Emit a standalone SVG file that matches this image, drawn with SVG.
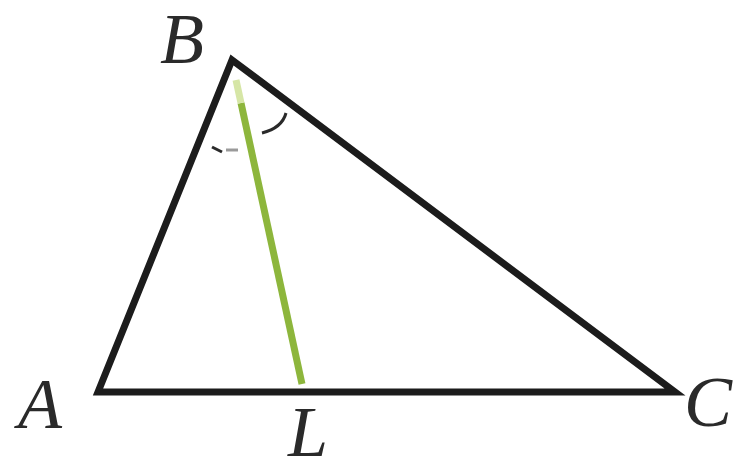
<svg xmlns="http://www.w3.org/2000/svg" width="741" height="466" viewBox="0 0 741 466">
<style>
.side{stroke:#1c1c1c;stroke-width:7;fill:none;stroke-linejoin:miter;stroke-linecap:butt}
.lbl{font-family:"Liberation Serif","Times New Roman",serif;font-style:italic;font-size:72px;fill:#2a2a2a}
.mark{stroke:#2a2a2a;stroke-width:3;fill:none}
</style>
<rect width="741" height="466" fill="#ffffff"/>
<g id="connectors">
<line x1="241" y1="103" x2="302" y2="384" stroke="#8db63c" stroke-width="7"/>
<line x1="236" y1="80" x2="241" y2="103" stroke="#d6e6a6" stroke-width="7"/>
<path class="side" d="M98,392 L232,60 L675,392 Z"/>
<path class="mark" d="M286,113 Q282,128 262,133"/>
<path class="mark" d="M212,147 L222,152"/>
<line x1="226" y1="150" x2="238" y2="150" stroke="#9a9a9a" stroke-width="3"/>
</g>
<g id="B"><text class="lbl" x="160" y="63">B</text></g>
<g id="A"><text class="lbl" x="18" y="428">A</text></g>
<g id="C"><text class="lbl" x="684" y="426">C</text></g>
<g id="L"><text class="lbl" x="288" y="456" font-size="68">L</text></g>
</svg>
